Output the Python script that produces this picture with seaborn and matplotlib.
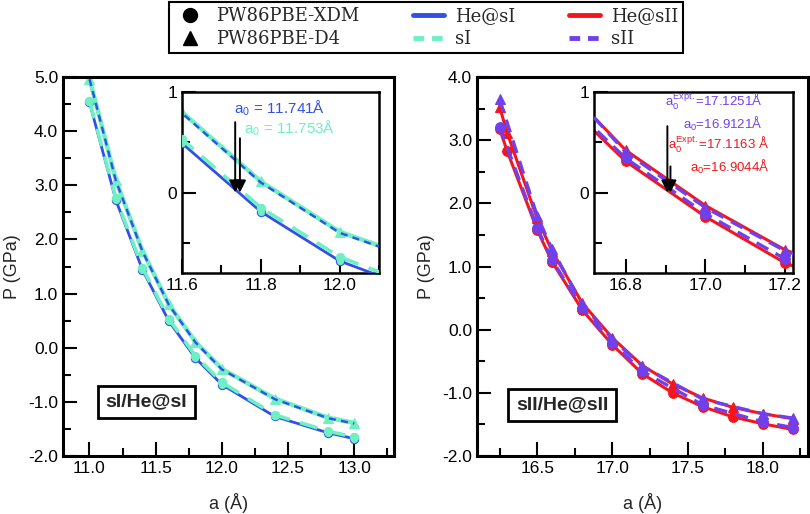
import pandas as pd
import matplotlib
matplotlib.use("Agg")
import matplotlib.pyplot as plt
from matplotlib.lines import Line2D
from matplotlib.ticker import MultipleLocator, FormatStrFormatter
import seaborn as sns

# lattice parameter a (Å) vs pressure P (GPa)
a_sI = [11.0, 11.2, 11.4, 11.6, 11.8, 12.0, 12.4, 12.8, 13.0]
p_hesI_xdm = [4.53, 2.72, 1.44, 0.49, -0.19, -0.68, -1.27, -1.57, -1.68]
p_sI_xdm = [4.56, 2.76, 1.48, 0.53, -0.15, -0.64, -1.24, -1.54, -1.65]
p_hesI_d4 = [4.96, 3.08, 1.78, 0.79, 0.10, -0.40, -0.95, -1.30, -1.40]
p_sI_d4 = [4.97, 3.09, 1.79, 0.80, 0.11, -0.39, -0.94, -1.29, -1.39]

a_hesII = [16.25, 16.3, 16.5, 16.6, 16.8, 17.0, 17.2, 17.4, 17.6, 17.8, 18.0, 18.2]
p_hesII_xdm = [3.18, 2.83, 1.58, 1.07, 0.31, -0.24, -0.70, -1.00, -1.22, -1.38, -1.49, -1.58]
p_hesII_d4 = [3.53, 3.12, 1.76, 1.24, 0.42, -0.13, -0.57, -0.86, -1.08, -1.23, -1.33, -1.41]
a_sII = [16.25, 16.5, 16.6, 16.8, 17.0, 17.2, 17.6, 18.0, 18.2]
p_sII_xdm = [3.21, 1.61, 1.10, 0.34, -0.21, -0.66, -1.19, -1.46, -1.55]
p_sII_d4 = [3.65, 1.80, 1.27, 0.40, -0.15, -0.58, -1.10, -1.33, -1.40]

# equilibrium lattice constants
a0_hesI, a0_sI = 11.741, 11.753
a0_hesII, a0_sII = 16.9044, 16.9121
a0_expt_hesII, a0_expt_sII = 17.1163, 17.1251

BLUE = "#3150e6"
AQUA = "#6ef0c4"
RED = "#f5151c"
PURPLE = "#7040ec"

sns.set_style("ticks")
plt.rcParams["font.family"] = ["Liberation Sans", "DejaVu Sans"]
plt.rcParams["axes.unicode_minus"] = False
plt.rcParams["mathtext.default"] = "regular"


def draw(ax, a, p, color, lw, marker=None, ms=6, dashes=None, mfc=None, z=2):
    df = pd.DataFrame({"a": a, "P": p})
    sns.lineplot(data=df, x="a", y="P", ax=ax, color=color, lw=lw,
                 marker=marker, markersize=ms, markeredgecolor=color,
                 markerfacecolor=mfc or color, estimator=None, sort=False,
                 zorder=z)
    if dashes:
        ax.lines[-1].set_dashes(dashes)


def draw_sI(ax):
    draw(ax, a_sI, p_sI_d4, AQUA, 3.2, "^", 7, z=2)
    draw(ax, a_sI, p_hesI_d4, BLUE, 1.7, None, dashes=(3, 2.2), z=3)
    draw(ax, a_sI, p_hesI_xdm, BLUE, 2.0, "o", 6, mfc=AQUA, z=3)
    draw(ax, a_sI, p_sI_xdm, AQUA, 2.6, "o", 6, dashes=(5, 3), z=4)


def draw_sII(ax):
    draw(ax, a_hesII, p_hesII_xdm, RED, 2.2, "o", 7, z=2)
    draw(ax, a_hesII, p_hesII_d4, RED, 2.2, "^", 7, z=2)
    draw(ax, a_sII, p_sII_xdm, PURPLE, 2.4, "o", 7, dashes=(4, 2.5), z=3)
    draw(ax, a_sII, p_sII_d4, PURPLE, 2.4, "^", 7, dashes=(4, 2.5), z=3)


def style(ax, xmaj, xmin, ymaj, ymin, fmtx, fmty, lw=1.8):
    ax.xaxis.set_major_locator(MultipleLocator(xmaj))
    ax.xaxis.set_minor_locator(MultipleLocator(xmin))
    ax.yaxis.set_major_locator(MultipleLocator(ymaj))
    ax.yaxis.set_minor_locator(MultipleLocator(ymin))
    ax.xaxis.set_major_formatter(FormatStrFormatter(fmtx))
    ax.yaxis.set_major_formatter(FormatStrFormatter(fmty))
    ax.tick_params(which="both", direction="in", width=1.5, labelsize=12.5,
                   top=False, right=False, colors="k")
    ax.tick_params(which="major", length=10)
    ax.tick_params(which="minor", length=5.5)
    for s in ax.spines.values():
        s.set_visible(True)
        s.set_linewidth(lw)
        s.set_color("k")
    ax.set_xlabel("")
    ax.set_ylabel("")


def arrow(ax, x, y0):
    ax.annotate("", xy=(x, 0.0), xytext=(x, y0),
                arrowprops=dict(arrowstyle="-|>", color="k", lw=1.4,
                                mutation_scale=18, shrinkA=0, shrinkB=0),
                zorder=6)


fig = plt.figure(figsize=(8.1, 5.14), dpi=100)

# ---- left panel: sI / He@sI
ax1 = fig.add_axes([0.0778, 0.1128, 0.4086, 0.7374])
draw_sI(ax1)
ax1.set_xlim(10.8, 13.3)
ax1.set_ylim(-2.0, 5.0)
style(ax1, 0.5, 0.25, 1.0, 0.5, "%.1f", "%.1f", lw=2.2)
ax1.set_xlabel("a (Å)", fontsize=13, labelpad=12)
ax1.set_ylabel("P (GPa)", fontsize=13, labelpad=5)
ax1.text(0.251, 0.143, "sI/He@sI", transform=ax1.transAxes, fontsize=14,
         fontweight="bold", ha="center", va="center",
         bbox=dict(boxstyle="square,pad=0.4", fc="white", ec="k", lw=2))

in1 = fig.add_axes([0.2247, 0.4689, 0.2432, 0.3521])
draw_sI(in1)
in1.set_xlim(11.6, 12.1)
in1.set_ylim(-0.8, 1.0)
style(in1, 0.2, 0.1, 1.0, 0.5, "%.1f", "%.0f", lw=1.8)
arrow(in1, a0_hesI - 0.006, 0.70)
arrow(in1, a0_sI - 0.006, 0.54)
in1.text(11.7325, 0.84, r"a$_0$ = %.3fÅ" % a0_hesI, color=BLUE, fontsize=11,
         ha="left", va="center")
in1.text(11.7575, 0.64, r"a$_0$ = %.3fÅ" % a0_sI, color=AQUA, fontsize=11,
         ha="left", va="center")

# ---- right panel: sII / He@sII
ax2 = fig.add_axes([0.5889, 0.1128, 0.4086, 0.7374])
draw_sII(ax2)
ax2.set_xlim(16.1, 18.3)
ax2.set_ylim(-2.0, 4.0)
style(ax2, 0.5, 0.25, 1.0, 0.5, "%.1f", "%.1f", lw=2.2)
ax2.set_xlabel("a (Å)", fontsize=13, labelpad=12)
ax2.set_ylabel("P (GPa)", fontsize=13, labelpad=5)
ax2.text(0.257, 0.135, "sII/He@sII", transform=ax2.transAxes, fontsize=14,
         fontweight="bold", ha="center", va="center",
         bbox=dict(boxstyle="square,pad=0.4", fc="white", ec="k", lw=2))

in2 = fig.add_axes([0.7333, 0.4689, 0.2457, 0.3521])
draw_sII(in2)
in2.set_xlim(16.72, 17.22)
in2.set_ylim(-0.8, 1.0)
style(in2, 0.2, 0.1, 1.0, 0.5, "%.1f", "%.0f", lw=1.8)
arrow(in2, a0_hesII, 0.66)
arrow(in2, a0_sII, 0.26)
in2.text(17.1425, 0.90, r"a$_0^{Expt.}$=%.4fÅ" % a0_expt_sII, color=PURPLE,
         fontsize=9.5, ha="right", va="center")
in2.text(17.1425, 0.68, r"a$_0$=%.4fÅ" % a0_sII, color=PURPLE,
         fontsize=9.5, ha="right", va="center")
in2.text(17.16, 0.47, r"a$_0^{Expt.}$=%.4f Å" % a0_expt_hesII, color=RED,
         fontsize=9.5, ha="right", va="center")
in2.text(17.16, 0.25, r"a$_0$=%.4fÅ" % a0_hesII, color=RED,
         fontsize=9.5, ha="right", va="center")

# ---- shared legend
handles = [
    Line2D([], [], ls="none", marker="o", color="k", ms=10),
    Line2D([], [], ls="none", marker="^", color="k", ms=10),
    Line2D([], [], color=BLUE, lw=3.5),
    Line2D([], [], color=AQUA, lw=3.5, ls=(0, (2.2, 1.6))),
    Line2D([], [], color=RED, lw=3.5),
    Line2D([], [], color=PURPLE, lw=3.5, ls=(0, (2.2, 1.6))),
]
labels = ["PW86PBE-XDM", "PW86PBE-D4", "He@sI", "sI", "He@sII", "sII"]
leg = fig.legend(handles, labels, ncol=3, loc="upper left",
                 bbox_to_anchor=(169 / 810, 1 - 2 / 514), frameon=True,
                 fancybox=False, edgecolor="k", framealpha=1,
                 prop={"family": "DejaVu Serif", "size": 13},
                 handlelength=1.7, handletextpad=0.6, columnspacing=3.0,
                 labelspacing=0.25, borderpad=0.3, borderaxespad=0)
leg.get_frame().set_linewidth(1.5)

fig.savefig("out.png", dpi=100)
